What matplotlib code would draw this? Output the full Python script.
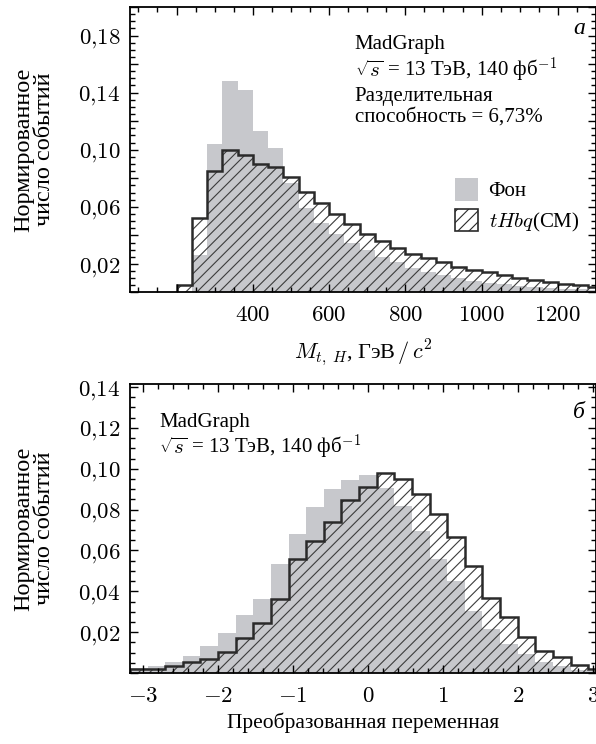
import numpy as np
import matplotlib
matplotlib.use("Agg")
import matplotlib.pyplot as plt
from matplotlib.patches import Patch
from matplotlib.ticker import MultipleLocator, FuncFormatter

plt.rcParams["font.family"] = ["Liberation Serif", "DejaVu Serif"]
plt.rcParams["mathtext.fontset"] = "cm"
plt.rcParams["hatch.linewidth"] = 0.8

# === dane: panel a (M_tH, ГэВ) ===
mass_edges = np.arange(200, 1321, 40)
mass_bkg = [0, 0.026, 0.104, 0.148, 0.142, 0.113, 0.101, 0.0765, 0.059, 0.049,
            0.041, 0.035, 0.030, 0.025, 0.021, 0.017, 0.0145, 0.012, 0.010, 0.008,
            0.0068, 0.0058, 0.0048, 0.004, 0.0033, 0.0027, 0.0022, 0.0018]
mass_sig = [0.005, 0.0525, 0.085, 0.0995, 0.0965, 0.090, 0.088, 0.081, 0.0705, 0.063,
            0.055, 0.048, 0.041, 0.036, 0.031, 0.027, 0.024, 0.021, 0.018, 0.016,
            0.014, 0.012, 0.010, 0.0085, 0.007, 0.006, 0.005, 0.004]

# === dane: panel б (преобразованная переменная) ===
var_edges = -3.175 + 0.235 * np.arange(28)
var_bkg = [0.0023, 0.0036, 0.0055, 0.0085, 0.0133, 0.0198, 0.0283, 0.0361, 0.0532,
           0.0681, 0.0811, 0.090, 0.0946, 0.0967, 0.0906, 0.0816, 0.0694, 0.0556,
           0.045, 0.0304, 0.0215, 0.0141, 0.0093, 0.0052, 0.0034, 0.0015, 0.001]
var_sig = [0.002, 0.0021, 0.0036, 0.0052, 0.0068, 0.0101, 0.0171, 0.0244, 0.0361,
           0.056, 0.0645, 0.074, 0.0849, 0.0909, 0.0979, 0.095, 0.0878, 0.078,
           0.0667, 0.0523, 0.0369, 0.0272, 0.0174, 0.0109, 0.0077, 0.004, 0.002]

gray = "#c7c8cc"
dark = "#2a2a2a"

fig = plt.figure(figsize=(5.96, 7.44), dpi=100)
ax1 = fig.add_axes([0.2181, 0.6069, 0.7819, 0.3837])
ax2 = fig.add_axes([0.2181, 0.0954, 0.7819, 0.3885])


def fmt(labelled):
    def f(v, pos):
        if round(v * 1000) not in labelled:
            return ""
        return ("$%.2f$" % v).replace(".", "{,}")
    return FuncFormatter(f)


def draw(ax, edges, bkg, sig):
    ax.stairs(bkg, edges, fill=True, color=gray, lw=0)
    ax.stairs(sig, edges, fill=True, facecolor="none", edgecolor="#3c3c3c",
              hatch="///", lw=0)
    ax.stairs(sig, edges, color=dark, lw=1.8)
    for s in ax.spines.values():
        s.set_linewidth(1.3)
    ax.tick_params(which="both", direction="in", top=True, right=True,
                   labelsize=16.5, width=1.0)
    ax.tick_params(which="major", length=6)
    ax.tick_params(which="minor", length=3.5)
    ax.tick_params(axis="x", which="major", pad=9)
    ax.tick_params(axis="y", which="major", pad=7)
    ax.set_ylabel("Нормированное\nчисло событий", fontsize=17.5,
                  linespacing=1.0)
    ax.yaxis.set_label_coords(-0.16, 0.5)


# --- panel a ---
draw(ax1, mass_edges, mass_bkg, mass_sig)
ax1.set_xlim(78, 1300)
ax1.set_ylim(0, 0.2)
ax1.xaxis.set_major_locator(MultipleLocator(200))
ax1.xaxis.set_minor_locator(MultipleLocator(50))
ax1.xaxis.set_major_formatter(FuncFormatter(
    lambda v, p: "" if v < 300 else "$%d$" % v))
ax1.yaxis.set_major_locator(MultipleLocator(0.02))
ax1.yaxis.set_minor_locator(MultipleLocator(0.005))
ax1.yaxis.set_major_formatter(fmt({20, 60, 100, 140, 180}))
ax1.set_xlabel(r"$M_{t,\;H}$, ГэВ$\,/\,c^2$", fontsize=16, labelpad=8)

ax1.text(0.963, 0.925, "а", transform=ax1.transAxes, fontsize=17,
         style="italic", ha="center", va="center")
ax1.text(0.482, 0.867, "MadGraph", transform=ax1.transAxes, fontsize=15,
         va="center")
ax1.text(0.482, 0.779, r"$\sqrt{s}$ = 13 ТэВ, 140 фб$^{-1}$",
         transform=ax1.transAxes, fontsize=15, va="center")
ax1.text(0.482, 0.685, "Разделительная", transform=ax1.transAxes, fontsize=15,
         va="center")
ax1.text(0.482, 0.615, "способность = 6,73%", transform=ax1.transAxes,
         fontsize=15, va="center")

handles = [Patch(facecolor=gray, edgecolor="none", label="Фон"),
           Patch(facecolor="white", edgecolor=dark, hatch="///", lw=1.2,
                 label=r"$tHbq$(СМ)")]
ax1.legend(handles=handles, loc="upper left", bbox_to_anchor=(0.68, 0.43),
           frameon=False, fontsize=15, handlelength=1.1, handleheight=1.3,
           handletextpad=0.5, labelspacing=0.35, borderaxespad=0)

# --- panel б ---
draw(ax2, var_edges, var_bkg, var_sig)
ax2.set_xlim(-3.175, 3.04)
ax2.set_ylim(0, 0.1415)
ax2.xaxis.set_major_locator(MultipleLocator(1))
ax2.xaxis.set_minor_locator(MultipleLocator(0.2))
ax2.xaxis.set_major_formatter(FuncFormatter(lambda v, p: "$%d$" % round(v)))
ax2.yaxis.set_major_locator(MultipleLocator(0.02))
ax2.yaxis.set_minor_locator(MultipleLocator(0.005))
ax2.yaxis.set_major_formatter(fmt({20, 40, 60, 80, 100, 120, 140}))
ax2.set_xlabel("Преобразованная переменная", fontsize=15.5, labelpad=4)

ax2.text(0.963, 0.90, "б", transform=ax2.transAxes, fontsize=17,
         style="italic", ha="center", va="center")
ax2.text(0.062, 0.868, "MadGraph", transform=ax2.transAxes, fontsize=15,
         va="center")
ax2.text(0.062, 0.782, r"$\sqrt{s}$ = 13 ТэВ, 140 фб$^{-1}$",
         transform=ax2.transAxes, fontsize=15, va="center")

fig.savefig("out.png", dpi=100)
